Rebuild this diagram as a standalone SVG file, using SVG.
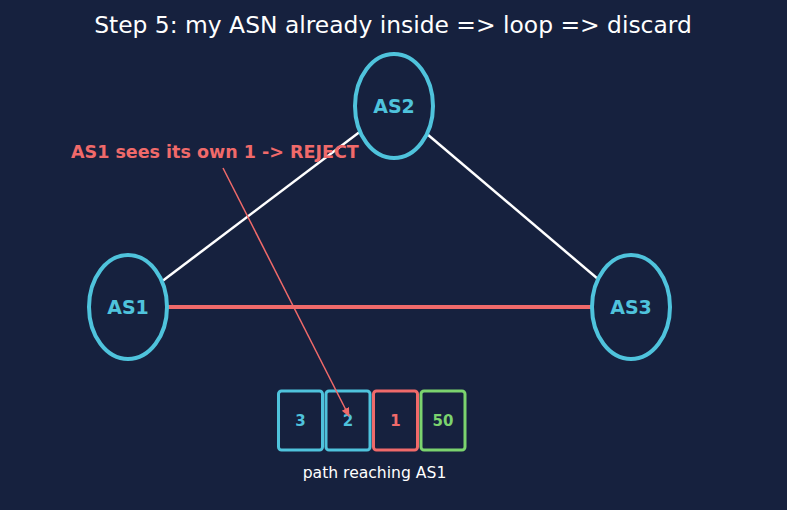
<svg xmlns="http://www.w3.org/2000/svg" width="787" height="510" viewBox="0 0 787 510">
<style>
.node{fill:#16213e;stroke:#4fc3dc;stroke-width:4}
.nlabel{font-family:"DejaVu Sans",sans-serif;font-weight:bold;font-size:19px;fill:#4fc3dc;text-anchor:middle}
.box{fill:#16213e;stroke-width:3}
.blabel{font-family:"DejaVu Sans",sans-serif;font-weight:bold;font-size:15px;text-anchor:middle}
</style>
<defs>
<marker id="ah" markerWidth="10" markerHeight="10" refX="8" refY="5" orient="auto" markerUnits="userSpaceOnUse">
<path d="M0,1 L9,5 L0,9 Z" fill="#f06a6a"/>
</marker>
</defs>
<rect width="787" height="510" fill="#16213e"/>
<text x="393" y="33" font-family="DejaVu Sans,sans-serif" font-size="23.4" fill="#ffffff" text-anchor="middle">Step 5: my ASN already inside =&gt; loop =&gt; discard</text>
<g id="connectors">
<line x1="128" y1="307" x2="394" y2="106" stroke="#ffffff" stroke-width="2.5"/>
<line x1="394" y1="106" x2="631" y2="307" stroke="#ffffff" stroke-width="2.5"/>
<line x1="128" y1="307" x2="631" y2="307" stroke="#f06a6a" stroke-width="4"/>
</g>
<g id="AS1"><ellipse class="node" cx="128" cy="307" rx="39" ry="52"/><text class="nlabel" x="128" y="314">AS1</text></g>
<g id="AS2"><ellipse class="node" cx="394" cy="106" rx="39" ry="52"/><text class="nlabel" x="394" y="113">AS2</text></g>
<g id="AS3"><ellipse class="node" cx="631" cy="307" rx="39" ry="52"/><text class="nlabel" x="631" y="314">AS3</text></g>
<g id="path">
<rect class="box" x="278.5" y="391" width="44" height="59" rx="3" stroke="#4fc3dc"/>
<text class="blabel" x="300.5" y="426" fill="#4fc3dc">3</text>
<rect class="box" x="326" y="391" width="44" height="59" rx="3" stroke="#4fc3dc"/>
<text class="blabel" x="348" y="426" fill="#4fc3dc">2</text>
<rect class="box" x="373.5" y="391" width="44" height="59" rx="3" stroke="#f06a6a"/>
<text class="blabel" x="395.5" y="426" fill="#f06a6a">1</text>
<rect class="box" x="421" y="391" width="44" height="59" rx="3" stroke="#7bd36e"/>
<text class="blabel" x="443" y="426" fill="#7bd36e">50</text>
<text x="374.5" y="478" font-family="DejaVu Sans,sans-serif" font-size="15.6" fill="#ffffff" text-anchor="middle">path reaching AS1</text>
</g>
<g id="annotation">
<text x="71" y="158" font-family="DejaVu Sans,sans-serif" font-weight="bold" font-size="17.5" fill="#f06a6a">AS1 sees its own 1 -&gt; REJECT</text>
<line x1="223" y1="168" x2="349" y2="416" stroke="#f06a6a" stroke-width="1.5" marker-end="url(#ah)"/>
</g>
</svg>
